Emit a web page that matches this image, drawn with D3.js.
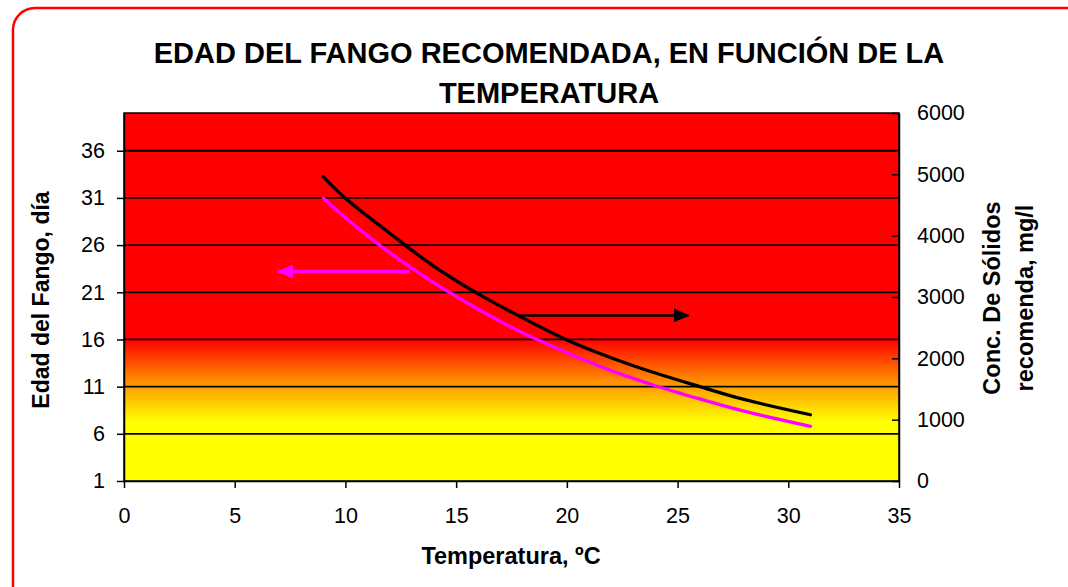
<!DOCTYPE html>
<html>
<head>
<meta charset="utf-8">
<script src="https://cdn.jsdelivr.net/npm/d3@7"></script>
<style>
  html, body { margin: 0; padding: 0; background: #fff; }
  svg { display: block; font-family: "Liberation Sans", Arial, sans-serif; }
</style>
</head>
<body>
<svg id="chart" width="1068" height="587"></svg>
<script>
// Temperatures (ºC) at which the recommended values are given
const temperatures = [9, 10, 12, 14, 16, 18, 20, 22, 24, 26, 28, 31];
// Recommended sludge age, days (left axis)
const sludgeAge = [31.0, 28.9, 25.2, 22.0, 19.2, 16.7, 14.6, 12.7, 11.1, 9.7, 8.4, 6.8];
// Recommended solids concentration, mg/l (right axis)
const solidsConc = [4960, 4610, 4040, 3500, 3050, 2660, 2300, 2010, 1760, 1540, 1330, 1080];

// Axis ticks
const xTicks = [0, 5, 10, 15, 20, 25, 30, 35];
const leftTicks = [1, 6, 11, 16, 21, 26, 31, 36];
const rightTicks = [0, 1000, 2000, 3000, 4000, 5000, 6000];

// Arrows telling which axis each curve belongs to
const ageArrow = { from: 12.9, to: 6.95, value: 23.2 };
const solidsArrow = { from: 17.9, to: 25.5, value: 2700 };

const titleLines = ["EDAD DEL FANGO RECOMENDADA, EN FUNCIÓN DE LA", "TEMPERATURA"];
const xTitle = "Temperatura, ºC";
const leftTitle = "Edad del Fango, día";
const rightTitleLines = ["Conc. De Sólidos", "recomenda, mg/l"];

const svg = d3.select("#chart");
const plot = { left: 124, right: 899, top: 113, bottom: 481 };

const x = d3.scaleLinear().domain([0, 35]).range([plot.left, plot.right]);
const yL = d3.scaleLinear().domain([1, 40]).range([plot.bottom, plot.top]);
const yR = d3.scaleLinear().domain([0, 6000]).range([plot.bottom, plot.top]);

// Outer rounded frame
svg.append("rect")
  .attr("x", 13).attr("y", 8)
  .attr("width", 1090).attr("height", 620)
  .attr("rx", 22).attr("ry", 22)
  .attr("fill", "#fff")
  .attr("stroke", "#ff0000")
  .attr("stroke-width", 2.5);

// Background gradient: red above 16 days, fading through orange to yellow
const defs = svg.append("defs");
const grad = defs.append("linearGradient")
  .attr("id", "bgGrad")
  .attr("gradientUnits", "userSpaceOnUse")
  .attr("x1", 0).attr("x2", 0)
  .attr("y1", yL(16)).attr("y2", yL(7.3));
grad.append("stop").attr("offset", 0).attr("stop-color", "#ff0000");
grad.append("stop").attr("offset", 0.55).attr("stop-color", "#ff9a00");
grad.append("stop").attr("offset", 1).attr("stop-color", "#ffff00");

svg.append("rect")
  .attr("x", plot.left).attr("y", plot.top)
  .attr("width", plot.right - plot.left)
  .attr("height", plot.bottom - plot.top)
  .attr("fill", "url(#bgGrad)");

// Horizontal gridlines at the left-axis ticks
svg.append("g")
  .selectAll("line")
  .data(leftTicks.filter(d => d > 1))
  .join("line")
  .attr("x1", plot.left).attr("x2", plot.right)
  .attr("y1", d => yL(d)).attr("y2", d => yL(d))
  .attr("stroke", "#000")
  .attr("stroke-width", 1.8);

// Plot outline
svg.append("rect")
  .attr("x", plot.left).attr("y", plot.top)
  .attr("width", plot.right - plot.left)
  .attr("height", plot.bottom - plot.top)
  .attr("fill", "none")
  .attr("stroke", "#000")
  .attr("stroke-width", 1.5);

// Curves
const ageLine = d3.line()
  .x((d, i) => x(temperatures[i]))
  .y(d => yL(d))
  .curve(d3.curveCatmullRom.alpha(0.5));
const solidsLine = d3.line()
  .x((d, i) => x(temperatures[i]))
  .y(d => yR(d))
  .curve(d3.curveCatmullRom.alpha(0.5));

svg.append("path")
  .datum(sludgeAge)
  .attr("d", ageLine)
  .attr("fill", "none")
  .attr("stroke", "#ff00ff")
  .attr("stroke-width", 3.3)
  .attr("stroke-linecap", "round");

svg.append("path")
  .datum(solidsConc)
  .attr("d", solidsLine)
  .attr("fill", "none")
  .attr("stroke", "#000")
  .attr("stroke-width", 3.3)
  .attr("stroke-linecap", "round");

// Arrowheads
function arrowHead(id, color) {
  defs.append("marker")
    .attr("id", id)
    .attr("markerUnits", "userSpaceOnUse")
    .attr("viewBox", "0 0 16 14")
    .attr("refX", 15).attr("refY", 7)
    .attr("markerWidth", 16).attr("markerHeight", 14)
    .attr("orient", "auto")
    .append("path")
    .attr("d", "M0,0 L16,7 L0,14 Z")
    .attr("fill", color);
}
arrowHead("headMagenta", "#ff00ff");
arrowHead("headBlack", "#000");

svg.append("line")
  .attr("x1", x(ageArrow.from)).attr("x2", x(ageArrow.to))
  .attr("y1", yL(ageArrow.value)).attr("y2", yL(ageArrow.value))
  .attr("stroke", "#ff00ff")
  .attr("stroke-width", 3.5)
  .attr("marker-end", "url(#headMagenta)");

svg.append("line")
  .attr("x1", x(solidsArrow.from)).attr("x2", x(solidsArrow.to))
  .attr("y1", yR(solidsArrow.value)).attr("y2", yR(solidsArrow.value))
  .attr("stroke", "#000")
  .attr("stroke-width", 2.5)
  .attr("marker-end", "url(#headBlack)");

// Axes
function styleAxis(g) {
  g.select(".domain").attr("stroke", "#000").attr("stroke-width", 1.5);
  g.selectAll(".tick line").attr("stroke", "#000").attr("stroke-width", 1.5);
  g.selectAll(".tick text").attr("fill", "#000").attr("font-size", 21.5);
  g.attr("font-family", null);
}

svg.append("g")
  .attr("transform", `translate(0,${plot.bottom})`)
  .call(d3.axisBottom(x).tickValues(xTicks).tickSizeInner(7).tickSizeOuter(0).tickPadding(20))
  .call(styleAxis);

svg.append("g")
  .attr("transform", `translate(${plot.left},0)`)
  .call(d3.axisLeft(yL).tickValues(leftTicks).tickSizeInner(7).tickSizeOuter(0).tickPadding(12))
  .call(styleAxis);

svg.append("g")
  .attr("transform", `translate(${plot.right},0)`)
  .call(d3.axisRight(yR).tickValues(rightTicks).tickFormat(d3.format("d"))
    .tickSizeInner(-7).tickSizeOuter(0).tickPadding(18))
  .call(styleAxis);

// Title
svg.append("g")
  .selectAll("text")
  .data(titleLines)
  .join("text")
  .attr("x", 549)
  .attr("y", (d, i) => 63 + i * 40)
  .attr("text-anchor", "middle")
  .attr("font-size", 29)
  .attr("font-weight", "bold")
  .attr("fill", "#000")
  .text(d => d);

// Axis titles
svg.append("text")
  .attr("x", 511).attr("y", 564)
  .attr("text-anchor", "middle")
  .attr("font-size", 23.5)
  .attr("font-weight", "bold")
  .attr("fill", "#000")
  .text(xTitle);

svg.append("text")
  .attr("transform", "translate(49,300) rotate(-90)")
  .attr("text-anchor", "middle")
  .attr("font-size", 23)
  .attr("font-weight", "bold")
  .attr("fill", "#000")
  .text(leftTitle);

svg.append("g")
  .selectAll("text")
  .data(rightTitleLines)
  .join("text")
  .attr("transform", (d, i) => `translate(${1000 + i * 33},298) rotate(-90)`)
  .attr("text-anchor", "middle")
  .attr("font-size", 23.5)
  .attr("font-weight", "bold")
  .attr("fill", "#000")
  .text(d => d);
</script>
</body>
</html>
